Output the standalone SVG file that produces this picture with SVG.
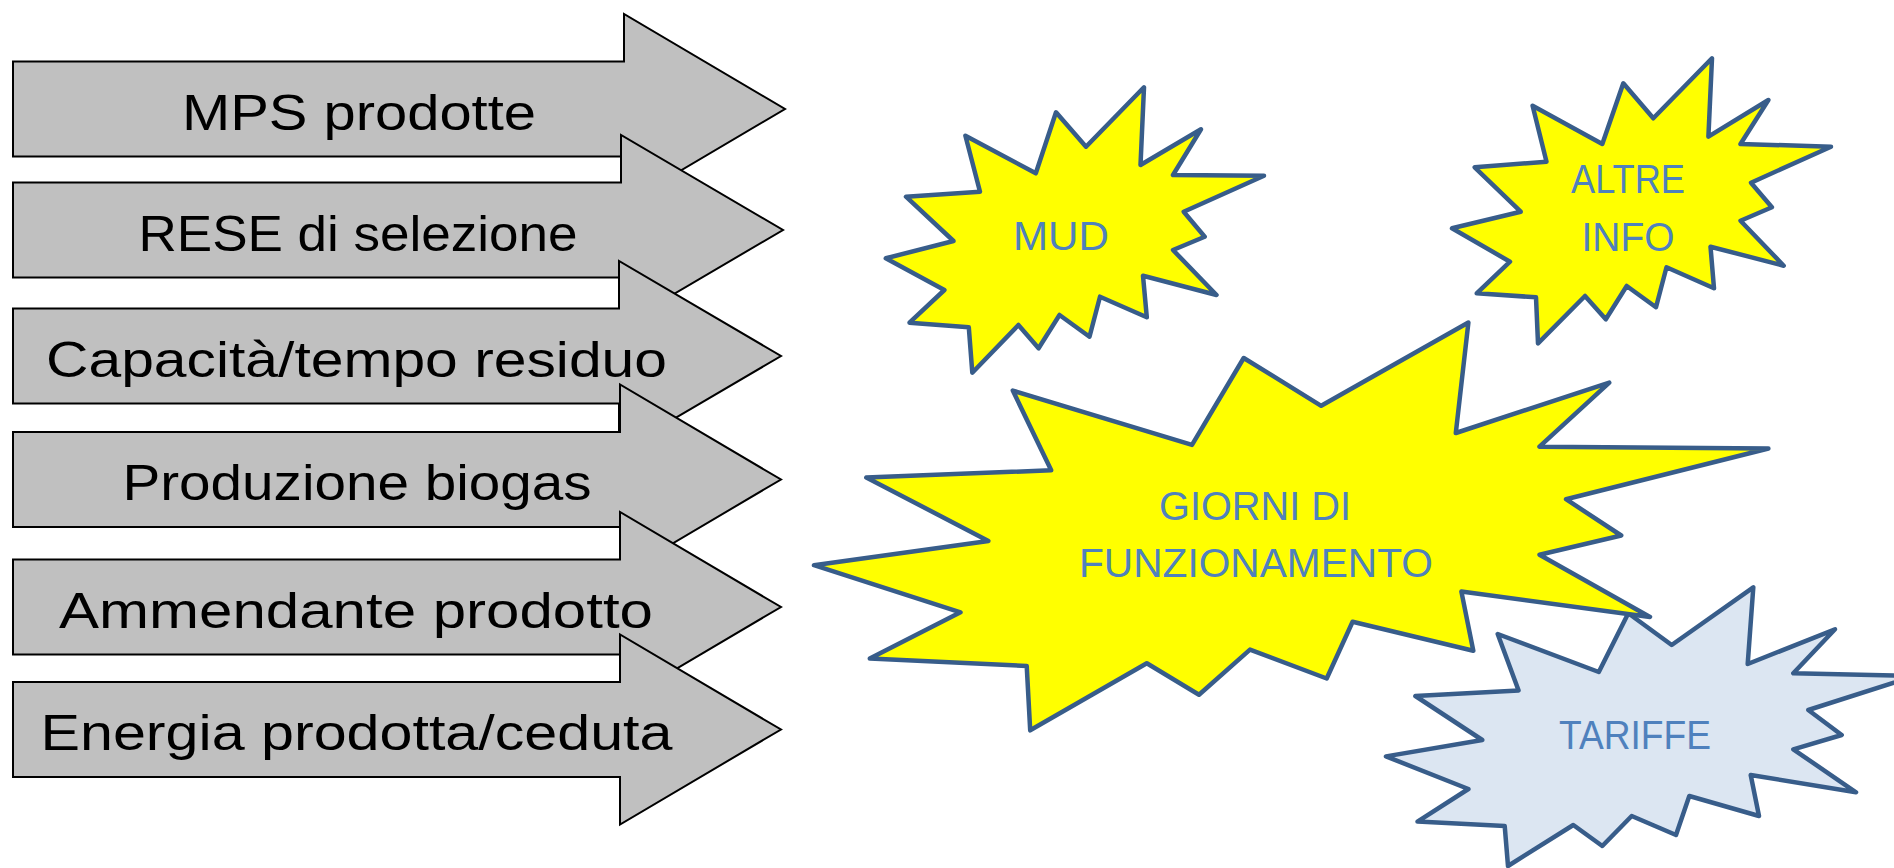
<svg xmlns="http://www.w3.org/2000/svg" width="1894" height="868" viewBox="0 0 1894 868">
<style>
.arrow{fill:#C0C0C0;stroke:#000;stroke-width:2;stroke-linejoin:miter}
.atext{font-family:"Liberation Sans",Arial,sans-serif;font-size:50px;fill:#000;text-anchor:middle}
.star{fill:#FFFF00;stroke:#385D8A;stroke-width:4.5;stroke-linejoin:round}
.star.blue{fill:#DCE6F2}
.stext{font-family:"Liberation Sans",Arial,sans-serif;font-size:41px;fill:#4F81BD;text-anchor:middle}
</style>
<rect width="1894" height="868" fill="#fff"/>
<g id="arrow1">
<polygon class="arrow" points="13,61.5 624,61.5 624,14 785,109 624,204 624,156.5 13,156.5"/>
<text class="atext" x="359" y="129.5" textLength="354" lengthAdjust="spacingAndGlyphs">MPS prodotte</text>
</g>
<g id="arrow2">
<polygon class="arrow" points="13,182.5 621,182.5 621,135 783,230 621,325 621,277.5 13,277.5"/>
<text class="atext" x="358" y="250.5" textLength="439" lengthAdjust="spacingAndGlyphs">RESE di selezione</text>
</g>
<g id="arrow3">
<polygon class="arrow" points="13,308.5 619,308.5 619,261 781,356 619,451 619,403.5 13,403.5"/>
<text class="atext" x="356.5" y="376.5" textLength="621" lengthAdjust="spacingAndGlyphs">Capacità/tempo residuo</text>
</g>
<g id="arrow4">
<polygon class="arrow" points="13,432 620,432 620,384.5 781,479.5 620,574.5 620,527 13,527"/>
<text class="atext" x="357" y="500" textLength="469" lengthAdjust="spacingAndGlyphs">Produzione biogas</text>
</g>
<g id="arrow5">
<polygon class="arrow" points="13,559.5 620,559.5 620,512 781,607 620,702 620,654.5 13,654.5"/>
<text class="atext" x="356" y="628" textLength="594" lengthAdjust="spacingAndGlyphs">Ammendante prodotto</text>
</g>
<g id="arrow6">
<polygon class="arrow" points="13,682 620,682 620,634.5 781,729.5 620,824.5 620,777 13,777"/>
<text class="atext" x="356.5" y="750" textLength="632" lengthAdjust="spacingAndGlyphs">Energia prodotta/ceduta</text>
</g>
<g id="mud">
<polygon class="star" points="1144,87.3 1140.5,165 1201,129.3 1173,175 1264,175.7 1183.7,211.7 1204.7,236.7 1173,250 1216.5,295 1143,275.7 1146.8,317.3 1100,296.7 1089.5,336.7 1059.5,315 1038.6,348.3 1018.4,325 972.3,372.7 968.8,327.3 909.5,322.7 944.4,290 885.8,258.3 953.5,241 906,196.7 980,191.7 965.4,135.7 1035.8,173.3 1056,112.3 1086,146.7"/>
<text class="stext" x="1061" y="250" textLength="96" lengthAdjust="spacingAndGlyphs">MUD</text>
</g>
<g id="altre-info">
<polygon class="star" points="1712,58.3 1708.4,136.7 1768.4,100 1740.5,144 1831,146.7 1751,182.7 1771.9,207.3 1740.5,220.7 1783.7,265.7 1710.5,246.7 1714,288.3 1666.5,267.3 1656,307.3 1626.7,286 1605.8,319.3 1585,296 1538,343.3 1536,297.3 1476.7,293.3 1510,261.7 1452,228.3 1520.7,211.7 1474.7,167.3 1546.5,161.7 1532.6,105.7 1602.3,144 1623.3,83.3 1653.3,118.3"/>
<text class="stext" x="1628" y="192.5" textLength="114" lengthAdjust="spacingAndGlyphs">ALTRE</text>
<text class="stext" x="1628" y="250.5" textLength="93" lengthAdjust="spacingAndGlyphs">INFO</text>
</g>
<g id="tariffe">
<polygon class="star blue" points="1753.3,587.3 1747.7,664 1835,629.3 1793.3,673.3 1915,676 1808.3,710 1841.7,735 1793.3,749.3 1856,792.3 1750.7,775 1759,816 1689.3,796 1676,835 1631.7,816 1602.3,846 1573.3,825 1508,866 1504.7,826 1417.5,821.6 1468.4,789 1386,756.4 1482.3,740 1415.4,696 1518.6,690.5 1497.7,634 1598.8,672 1628.3,613.3 1671.7,645"/>
<text class="stext" x="1635" y="749" textLength="152" lengthAdjust="spacingAndGlyphs">TARIFFE</text>
</g>
<g id="giorni">
<polygon class="star" points="1468.4,322.5 1455.8,433 1609.3,382.6 1539.5,446.7 1768.4,448.5 1566,499.2 1621.2,535.5 1539.5,554.7 1650,617 1461.4,591.6 1473.3,650.7 1352.6,621.7 1326.7,678.5 1250,649.6 1199,694.8 1146.8,663.3 1030.2,730.3 1026.7,665.9 869.8,658.6 960.5,612.3 814,565.2 988.4,540.9 866.3,477.5 1051.2,470.3 1012.8,390.6 1192,444.9 1243.7,358 1321.2,405.8"/>
<text class="stext" x="1255" y="520" textLength="192" lengthAdjust="spacingAndGlyphs">GIORNI DI</text>
<text class="stext" x="1256" y="577" textLength="354" lengthAdjust="spacingAndGlyphs">FUNZIONAMENTO</text>
</g>
<g id="connectors"></g>
</svg>
